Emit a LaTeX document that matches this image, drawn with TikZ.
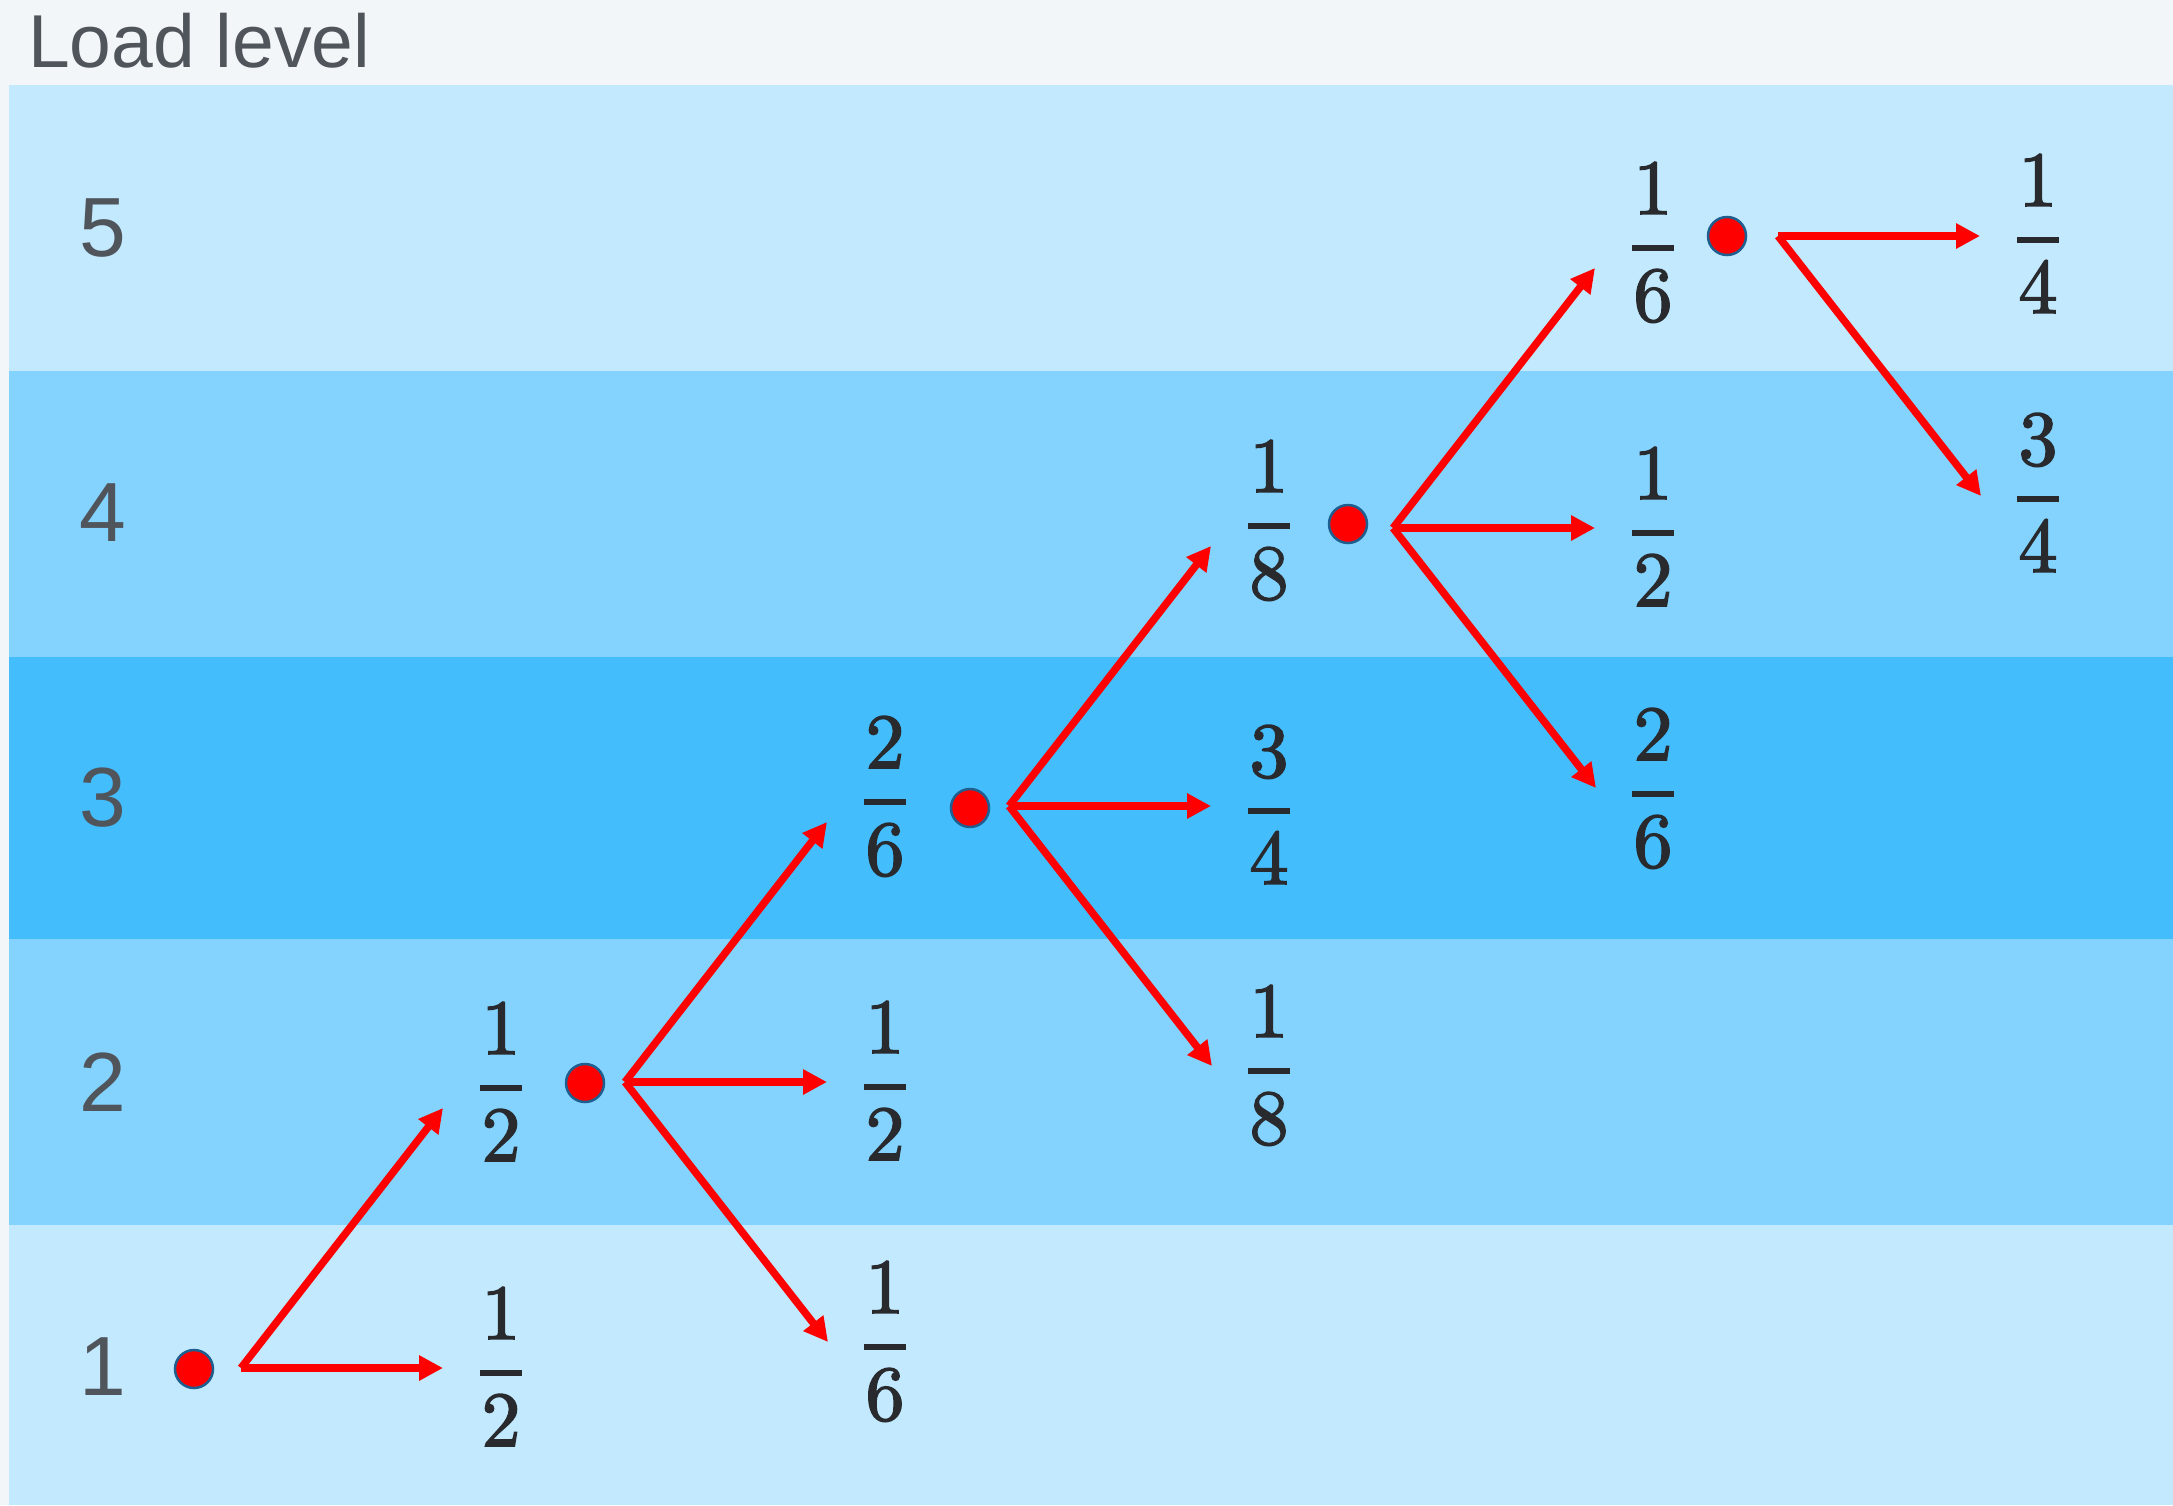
\documentclass[tikz,border=0pt]{standalone}
\usepackage{fontspec}
\setmainfont{Liberation Sans}
\newfontfamily\fracfont{lmroman10-regular.otf}[FakeBold=2]
\usetikzlibrary{arrows.meta,calc}
\definecolor{bgtop}{HTML}{F2F6F9}
\definecolor{bandL}{HTML}{C2E9FE}
\definecolor{bandM}{HTML}{83D3FE}
\definecolor{bandD}{HTML}{44BDFD}
\definecolor{lvltext}{HTML}{50555C}
\definecolor{fractext}{HTML}{282A2E}
\definecolor{dotedge}{HTML}{1F5F8F}
\newcommand\fdig[1]{\hbox to 42pt{\hss\smash{\fracfont\fontsize{78}{78}\selectfont #1}\vrule height 50pt depth 0pt width 0pt\hss}}
\newcommand\fr[2]{\vbox{\fdig{#1}\kern31pt\hrule height 6pt\kern20pt\fdig{#2}}}
\tikzset{
  band/.style={draw=none},
  lvl/.style={text=lvltext, inner sep=0pt, font=\fontsize{84}{84}\selectfont},
  frac/.style={text=fractext, inner sep=0pt, anchor=base, yshift=-73pt},
  dot/.style={circle, fill=red, draw=dotedge, line width=2.5pt, minimum size=38pt, inner sep=0pt},
  arr/.style={draw=red, line width=7.5pt, -{Triangle[length=24pt,width=24pt]}}
}
\begin{document}
\begin{tikzpicture}[x=1pt,y=-1pt]
\useasboundingbox (0,0) rectangle (2173,1505);
\fill[bgtop] (0,0) rectangle (2173,1505);
% bands
\fill[bandL] (9,85) rectangle (2173,371);
\fill[bandM] (9,371) rectangle (2173,657);
\fill[bandD] (9,657) rectangle (2173,939);
\fill[bandM] (9,939) rectangle (2173,1225);
\fill[bandL] (9,1225) rectangle (2173,1505);
% title
\node[text=lvltext, inner sep=0pt, anchor=base west, font=\fontsize{75}{75}\selectfont] (title) at (28,67) {Load level};
% level labels
\node[lvl] (l5) at (103,228) {5};
\node[lvl] (l4) at (103,513) {4};
\node[lvl] (l3) at (103,798) {3};
\node[lvl] (l2) at (103,1082) {2};
\node[lvl] (l1) at (103,1367) {1};
% dots
\node[dot] (d1) at (194,1369) {};
\node[dot] (d2) at (585,1083) {};
\node[dot] (d3) at (970,808) {};
\node[dot] (d4) at (1348,524) {};
\node[dot] (d5) at (1727,236) {};
% branch points
\coordinate (b1) at (241,1368);
\coordinate (b2) at (625,1082);
\coordinate (b3) at (1009,806);
\coordinate (b4) at (1393,528);
\coordinate (b5) at (1778,236);
% fractions
\node[frac] (f1h) at (501,1373) {\fr{1}{2}};
\node[frac] (f1u) at (501,1088) {\fr{1}{2}};
\node[frac] (f2u) at (885,802) {\fr{2}{6}};
\node[frac] (f2h) at (885,1087) {\fr{1}{2}};
\node[frac] (f2d) at (885,1347) {\fr{1}{6}};
\node[frac] (f3u) at (1269,526) {\fr{1}{8}};
\node[frac] (f3h) at (1269,811) {\fr{3}{4}};
\node[frac] (f3d) at (1269,1071) {\fr{1}{8}};
\node[frac] (f4u) at (1653,248) {\fr{1}{6}};
\node[frac] (f4h) at (1653,533) {\fr{1}{2}};
\node[frac] (f4d) at (1653,794) {\fr{2}{6}};
\node[frac] (f5h) at (2038,240) {\fr{1}{4}};
\node[frac] (f5d) at (2038,499) {\fr{3}{4}};
% arrow tips
\foreach \i in {1,...,5}{
  \coordinate (t\i u) at ($(b\i)+(202,-260)$);
  \coordinate (t\i h) at ($(b\i)+(202,0)$);
  \coordinate (t\i d) at ($(b\i)+(203,260)$);
}
% connectors
\draw[arr] (b1) -- (t1u);
\draw[arr] (b1) -- (t1h);
\foreach \i in {2,3,4}{
  \draw[arr] (b\i) -- (t\i u);
  \draw[arr] (b\i) -- (t\i h);
  \draw[arr] (b\i) -- (t\i d);
}
\draw[arr] (b5) -- (t5h);
\draw[arr] (b5) -- (t5d);
\end{tikzpicture}
\end{document}
